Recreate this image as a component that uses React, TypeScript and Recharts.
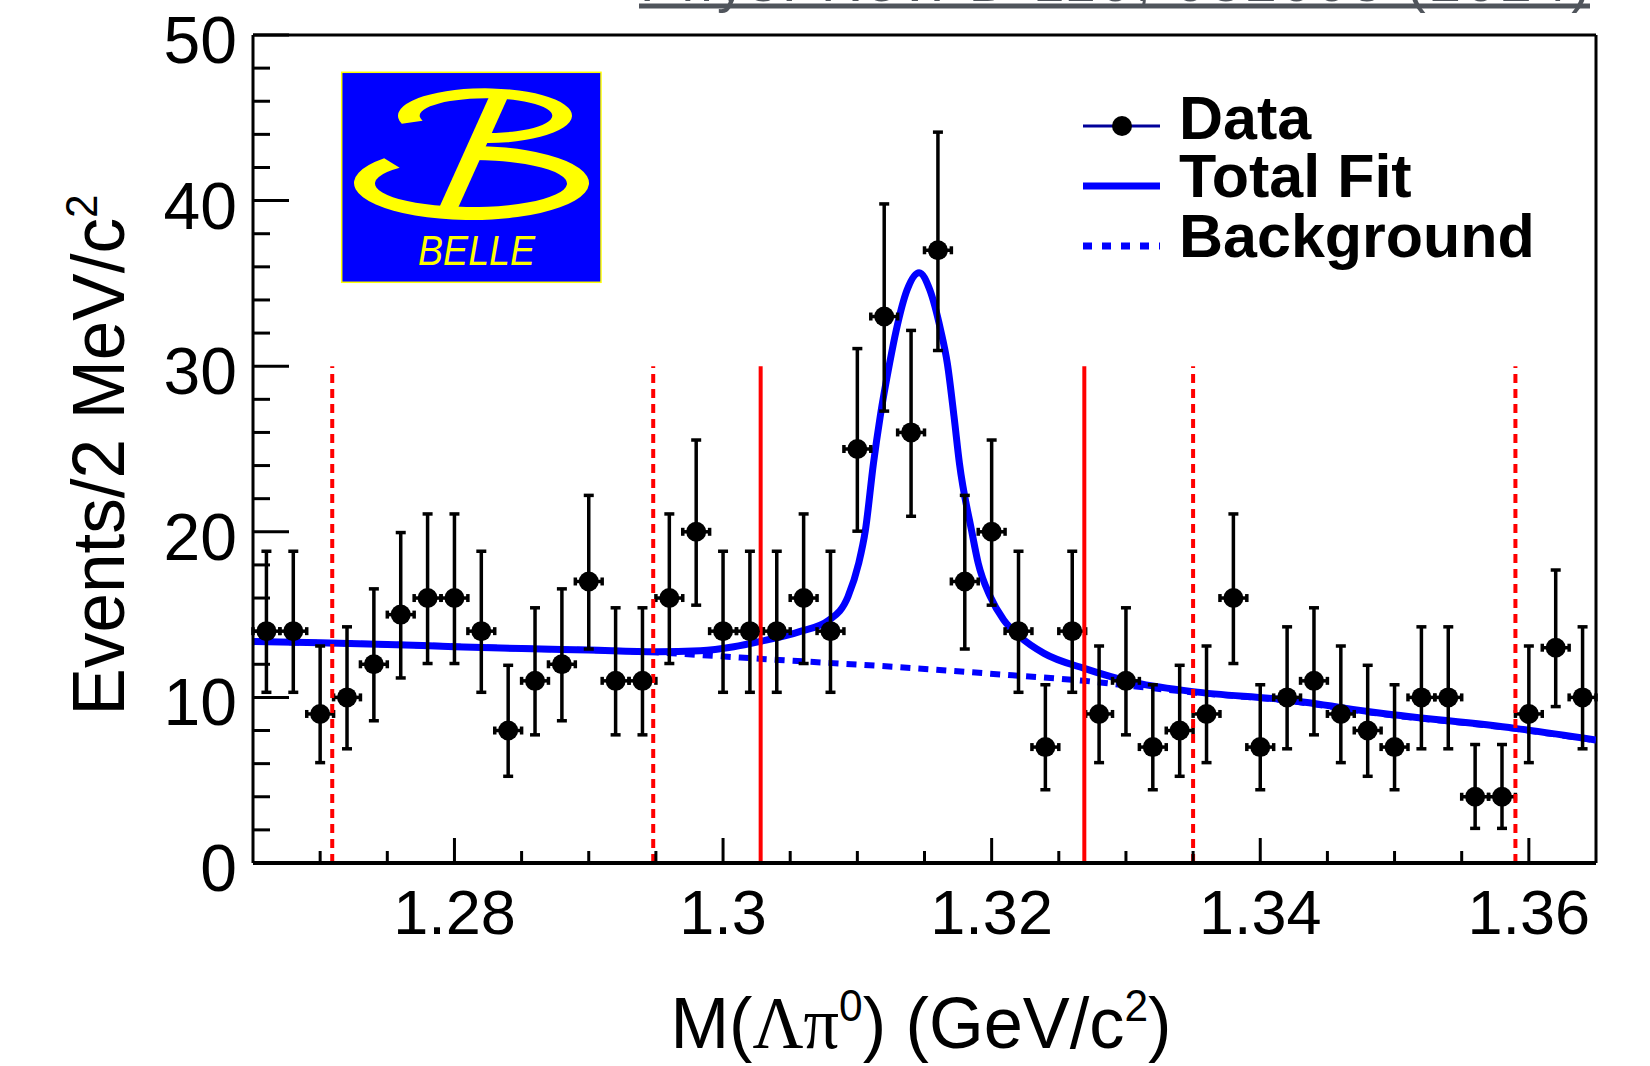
import React from 'react';
import { ComposedChart, Line, Scatter, XAxis, YAxis, ErrorBar, ReferenceLine } from 'recharts';

// M(Lambda pi0) spectrum, 2 MeV bins
const binCenters = [
  1.266, 1.268, 1.27, 1.272, 1.274, 1.276, 1.278, 1.28, 1.282, 1.284,
  1.286, 1.288, 1.29, 1.292, 1.294, 1.296, 1.298, 1.3, 1.302, 1.304,
  1.306, 1.308, 1.31, 1.312, 1.314, 1.316, 1.318, 1.32, 1.322, 1.324,
  1.326, 1.328, 1.33, 1.332, 1.334, 1.336, 1.338, 1.34, 1.342, 1.344,
  1.346, 1.348, 1.35, 1.352, 1.354, 1.356, 1.358, 1.36, 1.362, 1.364,
];
const counts = [
  14, 14, 9, 10, 12, 15, 16, 16, 14, 8,
  11, 12, 17, 11, 11, 16, 20, 14, 14, 14,
  16, 14, 25, 33, 26, 37, 17, 20, 14, 7,
  14, 9, 11, 7, 8, 9, 16, 7, 10, 11,
  9, 8, 7, 10, 10, 4, 4, 9, 13, 10,
];
const binHalfWidth = 0.001;

// fit curves
const totalFitX = [
  1.265, 1.27, 1.275, 1.28, 1.285, 1.29, 1.295, 1.2983, 1.3008, 1.3027,
  1.3057, 1.3079, 1.3093, 1.3101, 1.3106, 1.3112, 1.3117, 1.3124, 1.3129, 1.3137,
  1.3146, 1.3154, 1.3162, 1.3167, 1.3172, 1.3176, 1.3185, 1.319, 1.3199, 1.3209,
  1.3221, 1.3239, 1.3269, 1.3303, 1.335, 1.342, 1.349, 1.359, 1.365,
];
const totalFitY = [
  13.37, 13.3, 13.2, 13.06, 12.95, 12.86, 12.76, 12.82, 13.06, 13.37,
  13.97, 14.67, 16.08, 18.1, 20.1, 24.14, 26.95, 30.17, 32.19, 34.6,
  35.65, 34.6, 32.19, 30.17, 26.95, 24.14, 20.1, 18.1, 16.08, 14.67,
  13.67, 12.66, 11.75, 10.95, 10.35, 9.84, 9.04, 8.13, 7.43,
];
const backgroundX = [1.265, 1.275, 1.285, 1.295, 1.3008, 1.3042, 1.3132, 1.3221, 1.3269, 1.3303, 1.335, 1.342, 1.349, 1.359, 1.365];
const backgroundY = [13.37, 13.2, 12.95, 12.72, 12.43, 12.26, 11.82, 11.3, 11.0, 10.7, 10.3, 9.8, 9.0, 8.1, 7.4];

// signal window (solid) and sidebands (dashed)
const signalEdges = [1.3028, 1.3269];
const sidebandEdges = [1.2709, 1.2948, 1.335, 1.359];
const regionTop = 30;

const xTicks = [1.27, 1.275, 1.28, 1.285, 1.29, 1.295, 1.3, 1.305, 1.31, 1.315, 1.32, 1.325, 1.33, 1.335, 1.34, 1.345, 1.35, 1.355, 1.36];
const xTickLabels: Record<number, string> = { 1280: '1.28', 1300: '1.3', 1320: '1.32', 1340: '1.34', 1360: '1.36' };
const yTicks = [0, 2, 4, 6, 8, 10, 12, 14, 16, 18, 20, 22, 24, 26, 28, 30, 32, 34, 36, 38, 40, 42, 44, 46, 48, 50];

const SANS = '"Liberation Sans", Arial, Helvetica, sans-serif';
const SERIF = '"Liberation Serif", "Times New Roman", serif';

// Poisson (Garwood) 68% interval, as ROOT draws it
const poissonLow = (n: number) => (n === 0 ? 0 : n * Math.pow(1 - 1 / (9 * n) - 1 / (3 * Math.sqrt(n)), 3));
const poissonHigh = (n: number) => (n + 1) * Math.pow(1 - 1 / (9 * (n + 1)) + 1 / (3 * Math.sqrt(n + 1)), 3);

const dataRows = binCenters.map((x, i) => ({
  x,
  y: counts[i],
  ex: [binHalfWidth, binHalfWidth],
  ey: [counts[i] - poissonLow(counts[i]), poissonHigh(counts[i]) - counts[i]],
}));
const totalRows = totalFitX.map((x, i) => ({ x, y: totalFitY[i] }));
const bgRows = backgroundX.map((x, i) => ({ x, y: backgroundY[i] }));

const XTick = (props: any) => {
  const { x, y, payload } = props;
  const key = Math.round(payload.value * 1000);
  const major = key % 20 === 0;
  return (
    <g>
      <line x1={x} x2={x} y1={y} y2={y - (major ? 25 : 12)} stroke="#000" strokeWidth={3} />
      {major && (
        <text x={x} y={y + 71} textAnchor="middle" fontSize={63} fontFamily={SANS} fill="#000">
          {xTickLabels[key]}
        </text>
      )}
    </g>
  );
};

const YTick = (props: any) => {
  const { x, y, payload } = props;
  const major = payload.value % 10 === 0;
  return (
    <g>
      <line x1={x} x2={x + (major ? 36 : 17)} y1={y} y2={y} stroke="#000" strokeWidth={3} />
      {major && (
        <text x={x - 16} y={y + 28} textAnchor="end" fontSize={66} fontFamily={SANS} fill="#000">
          {payload.value}
        </text>
      )}
    </g>
  );
};

const DataDot = (props: any) => <circle cx={props.cx} cy={props.cy} r={10} fill="#000" />;

// elliptical ring segment, angles in degrees (clockwise, y down)
const ringPath = (cx: number, cy: number, rxo: number, ryo: number, cxi: number, cyi: number, rxi: number, ryi: number, a0: number, a1: number) => {
  const r = (d: number) => (d * Math.PI) / 180;
  const large = a1 - a0 > 180 ? 1 : 0;
  const p = (c1: number, c2: number, rx: number, ry: number, a: number) => `${c1 + rx * Math.cos(r(a))} ${c2 + ry * Math.sin(r(a))}`;
  return `M ${p(cx, cy, rxo, ryo, a0)} A ${rxo} ${ryo} 0 ${large} 1 ${p(cx, cy, rxo, ryo, a1)} L ${p(cxi, cyi, rxi, ryi, a1)} A ${rxi} ${ryi} 0 ${large} 0 ${p(cxi, cyi, rxi, ryi, a0)} Z`;
};

const BelleLogo = () => (
  <g transform="translate(330,65)">
    <rect x={11.7} y={7.3} width={259.3} height={210} fill="#0000ff" stroke="#ffff00" strokeWidth={1.5} />
    <path d={ringPath(155, 50.7, 87, 27.4, 156, 50.7, 66.3, 17.4, 163, 460)} fill="#ffff00" />
    <path d={ringPath(141.5, 118, 117.5, 37, 141, 118.5, 96, 23.5, 272, 582)} fill="#ffff00" />
    <path d="M 159 32 L 178 32 L 128 143 L 109 143 Z" fill="#ffff00" />
    <text x={88} y={200} fontSize={42} fontStyle="italic" fontFamily={SANS} fill="#ffff00" textLength={117} lengthAdjust="spacingAndGlyphs">
      BELLE
    </text>
  </g>
);

const LegendBox = () => (
  <g fontFamily={SANS} fontWeight="bold" fontSize={61} fill="#000">
    <line x1={1083} x2={1160} y1={126} y2={126} stroke="#000099" strokeWidth={3} />
    <circle cx={1122} cy={126} r={10} fill="#000" />
    <text x={1179} y={139}>Data</text>
    <line x1={1083} x2={1160} y1={186} y2={186} stroke="#0000ff" strokeWidth={7} />
    <text x={1179} y={197}>Total Fit</text>
    <line x1={1083} x2={1160} y1={246} y2={246} stroke="#0000ff" strokeWidth={7} strokeDasharray="9 10" />
    <text x={1179} y={257}>Background</text>
  </g>
);

export default function App() {
  return (
    <div style={{ position: 'absolute', left: 0, top: 0, width: 1650, height: 1066, background: '#fff' }}>
      <ComposedChart width={1650} height={1066} margin={{ top: 35, right: 54, bottom: 103, left: 153 }}>
        <XAxis
          type="number"
          dataKey="x"
          domain={[1.265, 1.365]}
          allowDataOverflow
          ticks={xTicks}
          interval={0}
          height={100}
          tickSize={0}
          tickMargin={0}
          tick={<XTick />}
          axisLine={{ stroke: '#000', strokeWidth: 4 }}
        />
        <YAxis
          type="number"
          domain={[0, 50]}
          allowDataOverflow
          ticks={yTicks}
          interval={0}
          width={100}
          tickSize={0}
          tickMargin={0}
          tick={<YTick />}
          axisLine={{ stroke: '#000', strokeWidth: 3 }}
        />
        <ReferenceLine y={50} stroke="#000" strokeWidth={3} />
        <ReferenceLine x={1.365} stroke="#000" strokeWidth={3} />
        <Line data={bgRows} dataKey="y" type="monotone" dot={false} stroke="#0000ff" strokeWidth={6} strokeDasharray="10 8" isAnimationActive={false} />
        <Line data={totalRows} dataKey="y" type="monotone" dot={false} stroke="#0000ff" strokeWidth={7} isAnimationActive={false} />
        <Scatter data={dataRows} dataKey="y" shape={<DataDot />} isAnimationActive={false}>
          <ErrorBar dataKey="ey" direction="y" width={5} stroke="#000" strokeWidth={3.5} />
          <ErrorBar dataKey="ex" direction="x" width={4} stroke="#000" strokeWidth={3.5} />
        </Scatter>
        {sidebandEdges.map((x) => (
          <ReferenceLine key={'sb' + x} segment={[{ x, y: 0 }, { x, y: regionTop }]} stroke="#ff0000" strokeWidth={4} strokeDasharray="9 6" />
        ))}
        {signalEdges.map((x) => (
          <ReferenceLine key={'sig' + x} segment={[{ x, y: 0 }, { x, y: regionTop }]} stroke="#ff0000" strokeWidth={4} />
        ))}
      </ComposedChart>
      <svg width={1650} height={1066} style={{ position: 'absolute', left: 0, top: 0, pointerEvents: 'none' }}>
        <text x={640} y={0.5} fontSize={56} fontFamily={SANS} fill="#50555c" textLength={950} lengthAdjust="spacing">
          Phys. Rev. D 110, 032005 (2024)
        </text>
        <rect x={639} y={3.5} width={951} height={5} fill="#50555c" />
        <BelleLogo />
        <LegendBox />
        <text x={921} y={1048} textAnchor="middle" fontSize={73} fontFamily={SANS} fill="#000" textLength={501} lengthAdjust="spacingAndGlyphs">
          M(<tspan fontFamily={SERIF}>Λπ</tspan>
          <tspan dy={-27} fontSize={44}>0</tspan>
          <tspan dy={27}>) (GeV/c</tspan>
          <tspan dy={-27} fontSize={44}>2</tspan>
          <tspan dy={27}>)</tspan>
        </text>
        <text
          x={124}
          y={455}
          transform="rotate(-90 124 455)"
          textAnchor="middle"
          fontSize={74}
          fontFamily={SANS}
          fill="#000"
          textLength={521}
          lengthAdjust="spacingAndGlyphs"
        >
          Events/2 MeV/c<tspan dy={-27} fontSize={44}>2</tspan>
        </text>
      </svg>
    </div>
  );
}
